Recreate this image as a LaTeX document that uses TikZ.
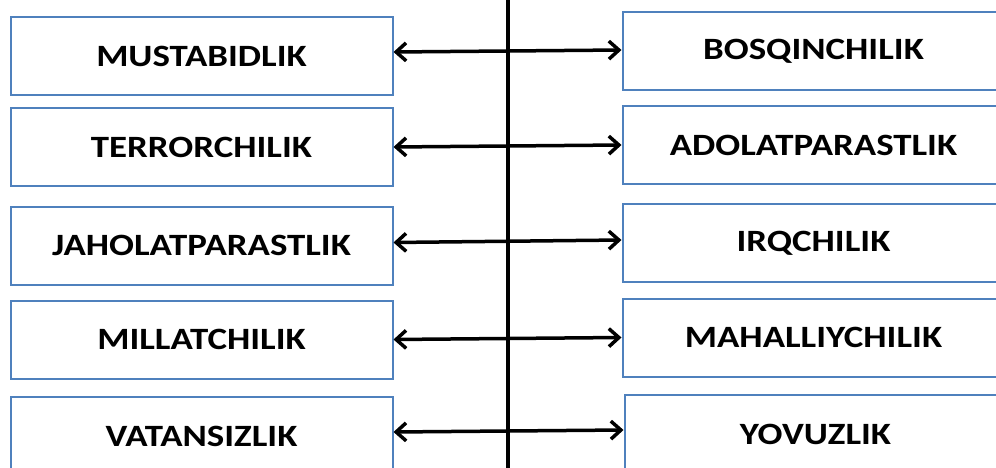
\documentclass[tikz,border=0pt]{standalone}
\usepackage{fontspec}
\setmainfont{Carlito}[FakeStretch=1.19]
\usetikzlibrary{arrows.meta}
\definecolor{boxblue}{RGB}{79,129,189}
\begin{document}
\begin{tikzpicture}[x=1pt,y=-1pt]
		\tikzset{term/.style={draw=boxblue, line width=2pt, minimum width=382pt, minimum height=78pt, inner sep=0pt, font=\fontsize{31}{36}\selectfont\bfseries},
			link/.style={black, line width=3.5pt, {Straight Barb[length=10pt,width=18pt]}-{Straight Barb[length=10pt,width=18pt]}}}
		\useasboundingbox (0,0) rectangle (996,468);
		\node [term] (l1) at (201.5,56) {MUSTABIDLIK};
		\node [term] (l2) at (201.5,147) {TERRORCHILIK};
		\node [term] (l3) at (201.5,245.5) {JAHOLATPARASTLIK};
		\node [term] (l4) at (201.5,339.5) {MILLATCHILIK};
		\node [term] (l5) at (201.5,436) {VATANSIZLIK};
		\node [term] (r1) at (813.5,51) {BOSQINCHILIK};
		\node [term] (r2) at (813.5,145) {ADOLATPARASTLIK};
		\node [term] (r3) at (813.5,243) {IRQCHILIK};
		\node [term] (r4) at (813.5,337.5) {MAHALLIYCHILIK};
		\node [term] (r5) at (815.5,434) {YOVUZLIK};
		\coordinate (top) at (508,0);
		\coordinate (bot) at (508,468);
		\draw [black, line width=3.5pt] (top) -- (bot);
		\draw [link] ([yshift=4pt]l1.east) -- ([yshift=1pt]r1.west);
		\draw [link] (l2.east) -- (r2.west);
		\draw [link] ([yshift=3pt]l3.east) -- ([yshift=3pt]r3.west);
		\draw [link] (l4.east) -- (r4.west);
		\draw [link] ([yshift=4pt]l5.east) -- ([yshift=4pt]r5.west);
	\end{tikzpicture}
\end{document}
